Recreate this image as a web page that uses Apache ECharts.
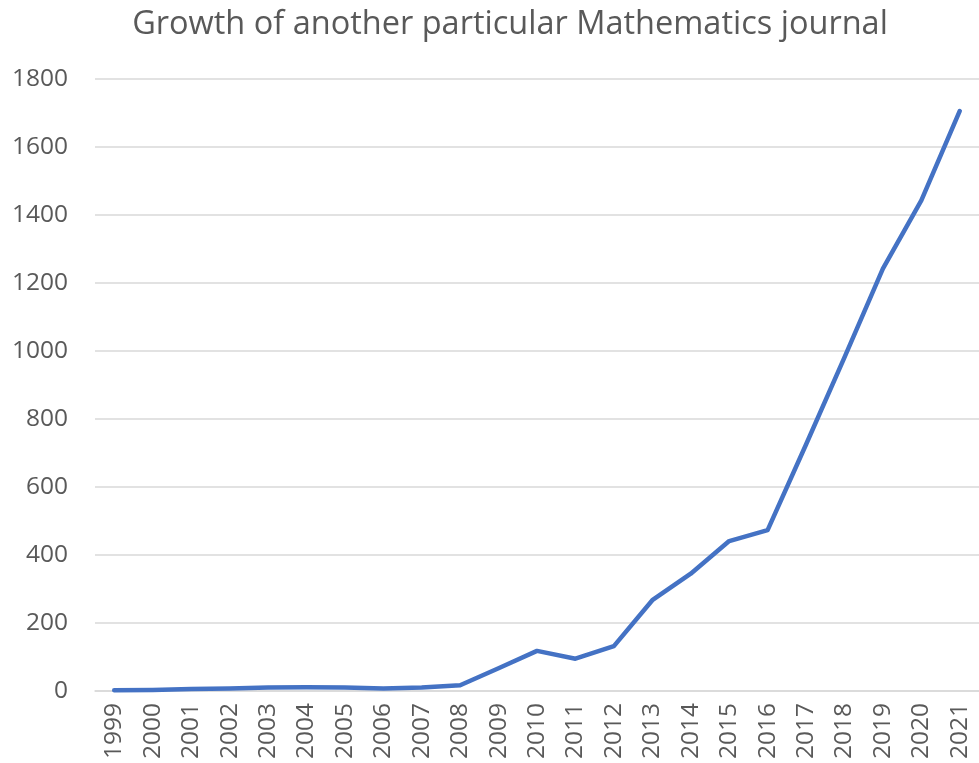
<!DOCTYPE html>
<html>
<head>
<meta charset="utf-8">
<script src="https://cdn.jsdelivr.net/npm/echarts@6/dist/echarts.min.js"></script>
<style>
  html, body { margin: 0; padding: 0; background: #ffffff; }
  #chart { width: 979px; height: 763px; }
</style>
</head>
<body>
<div id="chart"></div>
<script>
// Publication years
const years = ['1999', '2000', '2001', '2002', '2003', '2004', '2005', '2006',
  '2007', '2008', '2009', '2010', '2011', '2012', '2013', '2014', '2015',
  '2016', '2017', '2018', '2019', '2020', '2021'];

// Articles published per year
const articles = [2, 3, 6, 7, 10, 11, 10, 7, 10, 17, 67, 118, 95, 132, 267,
  345, 441, 473, 725, 981, 1242, 1443, 1706];

// Value axis ticks
const yMin = 0;
const yMax = 1800;
const yStep = 200;

const chart = echarts.init(document.getElementById('chart'), null, { renderer: 'canvas' });

const textColor = '#595959';
const gridColor = '#d9d9d9';
const font = '"Open Sans", "Liberation Sans", sans-serif';

chart.setOption({
  animation: false,
  backgroundColor: '#ffffff',
  title: {
    text: 'Growth of another particular Mathematics journal',
    left: 505,
    textAlign: 'center',
    top: 3,
    textStyle: {
      fontFamily: font,
      fontSize: 32.5,
      fontWeight: 'normal',
      color: textColor
    }
  },
  grid: {
    left: 95,
    width: 888,
    top: 79,
    bottom: 72,
    containLabel: false
  },
  xAxis: {
    type: 'category',
    data: years,
    boundaryGap: true,
    axisLine: { show: true, lineStyle: { color: gridColor, width: 1.5 } },
    axisTick: { show: false },
    axisLabel: {
      rotate: 90,
      margin: 12,
      color: textColor,
      fontFamily: font,
      fontSize: 24.5
    },
    splitLine: { show: false }
  },
  yAxis: {
    type: 'value',
    min: yMin,
    max: yMax,
    interval: yStep,
    axisLine: { show: false },
    axisTick: { show: false },
    axisLabel: {
      margin: 27,
      color: textColor,
      fontFamily: font,
      fontSize: 24.5,
      formatter: (v) => String(v)
    },
    splitLine: { show: true, lineStyle: { color: gridColor, width: 1.5 } }
  },
  series: [{
    type: 'line',
    data: articles,
    showSymbol: false,
    symbol: 'none',
    lineStyle: { color: '#4472c4', width: 4.5, cap: 'round', join: 'round' }
  }]
});
</script>
</body>
</html>
